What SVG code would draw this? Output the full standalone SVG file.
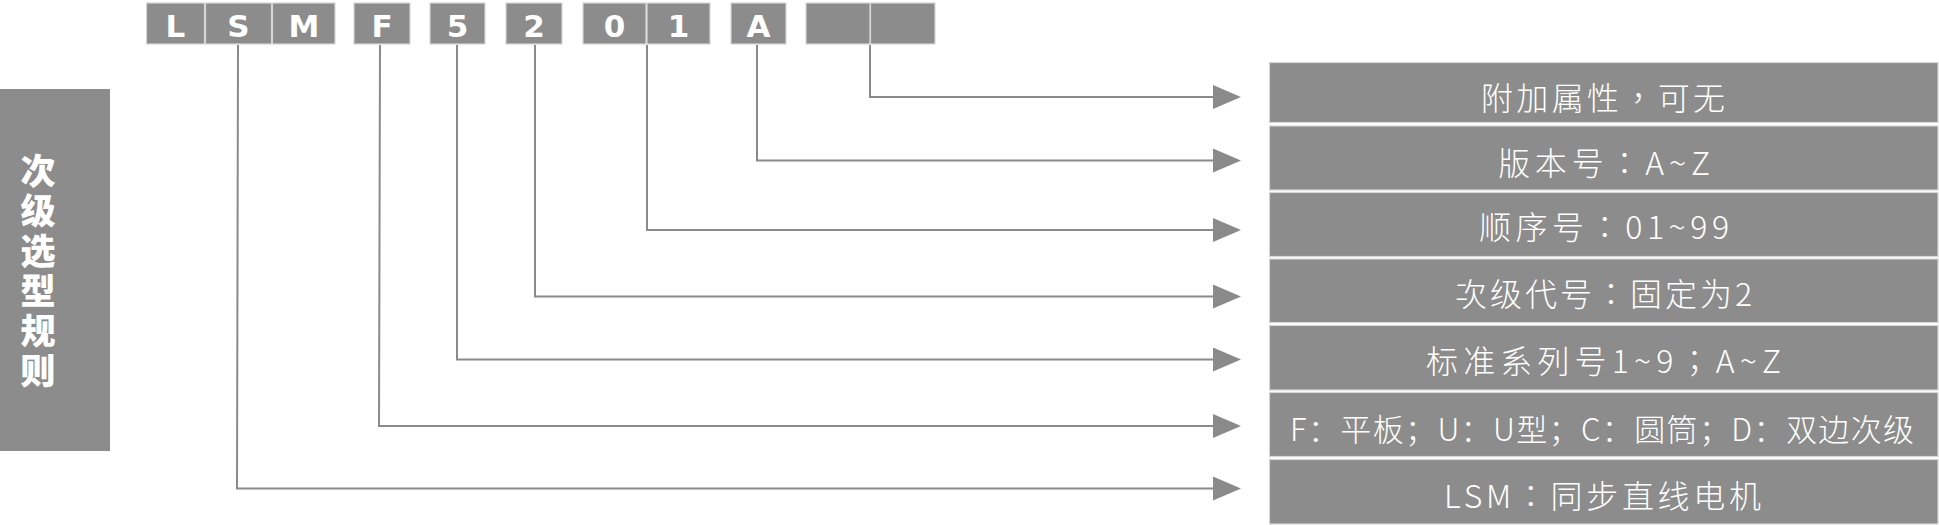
<svg xmlns="http://www.w3.org/2000/svg" width="1939" height="525" viewBox="0 0 1939 525">
<style>
.box{fill:#8c8c8c;stroke:#d6d6d6;stroke-width:1.2}
.code{font-family:"DejaVu Sans",sans-serif;font-weight:bold;font-size:31px;fill:#fff;text-anchor:middle}
.desc{font-family:"Noto Sans CJK TC","Noto Sans CJK SC",sans-serif;font-weight:300;font-size:32px;fill:#fff;text-anchor:middle}
.descsc{font-family:"Noto Sans CJK SC",sans-serif;font-weight:300;font-size:31px;fill:#fff;text-anchor:middle}
.title{font-family:"Noto Sans CJK SC",sans-serif;font-weight:900;font-size:35px;fill:#fff;text-anchor:middle}
.conn{fill:none;stroke:#8a8a8a;stroke-width:2}
</style>
<defs>
<marker id="arr" markerUnits="userSpaceOnUse" viewBox="0 0 28 24" refX="0" refY="12" markerWidth="28" markerHeight="24" orient="auto">
<path d="M0,0 L28,12 L0,24 Z" fill="#8a8a8a"/>
</marker>
</defs>
<rect width="1939" height="525" fill="#fff"/>

<g id="title">
<rect x="0" y="89" width="110" height="362" fill="#8c8c8c"/>
<text class="title" x="38" y="184">次</text>
<text class="title" x="38" y="224">级</text>
<text class="title" x="38" y="264">选</text>
<text class="title" x="38" y="304">型</text>
<text class="title" x="38" y="344">规</text>
<text class="title" x="38" y="384">则</text>
</g>

<g id="code">
<g id="code-L"><rect class="box" x="146.5" y="3" width="58" height="41"/><text class="code" x="175.5" y="37">L</text></g>
<g id="code-S"><rect class="box" x="205.5" y="3" width="66" height="41"/><text class="code" x="238.5" y="37">S</text></g>
<g id="code-M"><rect class="box" x="272.5" y="3" width="62.5" height="41"/><text class="code" x="304" y="37">M</text></g>
<g id="code-F"><rect class="box" x="354" y="3" width="56" height="41"/><text class="code" x="382" y="37">F</text></g>
<g id="code-5"><rect class="box" x="430" y="3" width="55" height="41"/><text class="code" x="457.5" y="37">5</text></g>
<g id="code-2"><rect class="box" x="506" y="3" width="56" height="41"/><text class="code" x="534" y="37">2</text></g>
<g id="code-0"><rect class="box" x="583" y="3" width="63" height="41"/><text class="code" x="614.5" y="37">0</text></g>
<g id="code-1"><rect class="box" x="647" y="3" width="63" height="41"/><text class="code" x="678.5" y="37">1</text></g>
<g id="code-A"><rect class="box" x="731" y="3" width="55" height="41"/><text class="code" x="758.5" y="37">A</text></g>
<g id="code-blank1"><rect class="box" x="806" y="3" width="64" height="41"/></g>
<g id="code-blank2"><rect class="box" x="870.5" y="3" width="64.5" height="41"/></g>
</g>

<g id="connectors">
<path class="conn" marker-end="url(#arr)" d="M870,45 V97 H1213"/>
<path class="conn" marker-end="url(#arr)" d="M757,45 V160.5 H1213"/>
<path class="conn" marker-end="url(#arr)" d="M647,45 V230 H1213"/>
<path class="conn" marker-end="url(#arr)" d="M535,45 V296.5 H1213"/>
<path class="conn" marker-end="url(#arr)" d="M457,45 V359.5 H1213"/>
<path class="conn" marker-end="url(#arr)" d="M380,45 L379,426 H1213"/>
<path class="conn" marker-end="url(#arr)" d="M238,45 L237,488.5 H1213"/>
</g>

<g id="desc-extra"><rect class="box" x="1269.5" y="62.5" width="668.5" height="60"/><text class="desc" x="1603" y="110" textLength="244" lengthAdjust="spacing">附加属性，可无</text></g>
<g id="desc-version"><rect class="box" x="1269.5" y="126" width="668.5" height="64"/><text class="desc" x="1604" y="175" textLength="212" lengthAdjust="spacing">版本号：A~Z</text></g>
<g id="desc-seq"><rect class="box" x="1269.5" y="192.5" width="668.5" height="64"/><text class="desc" x="1604" y="239" textLength="250" lengthAdjust="spacing">顺序号：01~99</text></g>
<g id="desc-sub"><rect class="box" x="1269.5" y="259" width="668.5" height="63.5"/><text class="desc" x="1603.5" y="306" textLength="297" lengthAdjust="spacing">次级代号：固定为2</text></g>
<g id="desc-series"><rect class="box" x="1269.5" y="325.5" width="668.5" height="64.5"/><text class="desc" x="1603.5" y="373" textLength="355" lengthAdjust="spacing">标准系列号1~9；A~Z</text></g>
<g id="desc-type"><rect class="box" x="1269.5" y="392.5" width="668.5" height="64"/><text class="descsc" x="1602" y="441" textLength="624" lengthAdjust="spacing">F：平板；U：U型；C：圆筒；D：双边次级</text></g>
<g id="desc-lsm"><rect class="box" x="1269.5" y="459.5" width="668.5" height="64.5"/><text class="desc" x="1602.5" y="508" textLength="317" lengthAdjust="spacing">LSM：同步直线电机</text></g>
</svg>
